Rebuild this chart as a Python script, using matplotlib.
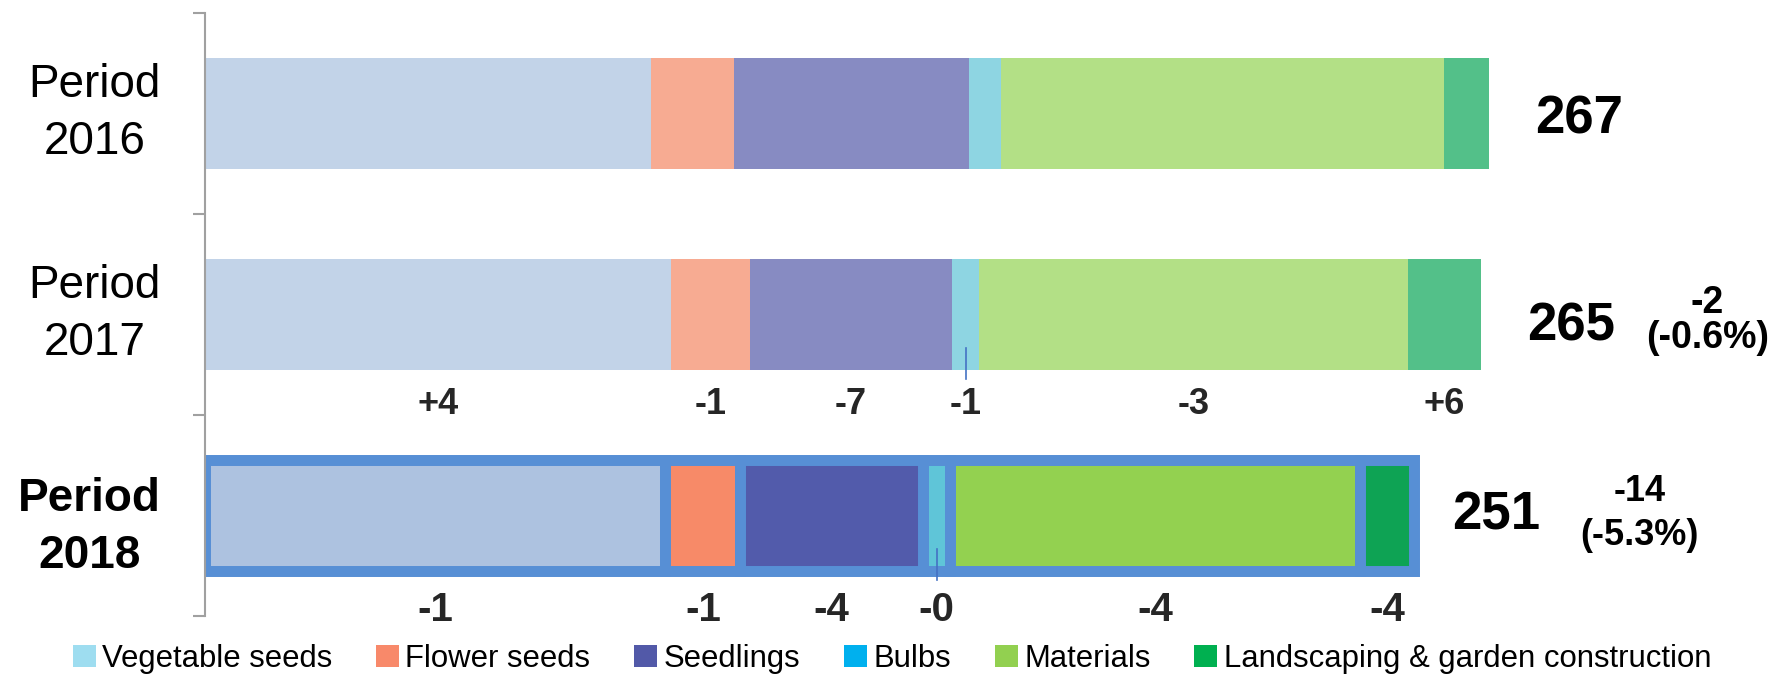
import matplotlib
matplotlib.use("Agg")
import matplotlib.pyplot as plt
from matplotlib.patches import Patch

plt.rcParams['font.family'] = ['Liberation Sans', 'DejaVu Sans']

periods = ["Period\n2016", "Period\n2017", "Period\n2018"]
categories = ["Vegetable seeds", "Flower seeds", "Seedlings", "Bulbs",
              "Materials", "Landscaping & garden construction"]

# values per period, one entry per category
p2016 = [92.7, 17.3, 48.9, 6.6, 92.1, 9.4]
p2017 = [96.8, 16.5, 42.0, 5.7, 89.1, 15.2]
p2018 = [95.7, 15.6, 38.0, 5.6, 85.2, 11.2]
values = [p2016, p2017, p2018]

old_colors = ['#C2D3E8', '#F7AB92', '#878BC2', '#8ED5E2', '#B3E086', '#53C089']
new_colors = ['#ADC2E0', '#F78A68', '#525BAB', '#5FC5D8', '#93D150', '#0EA354']
legend_colors = ['#9EDDF0', '#F8896A', '#5259A8', '#00B0EE', '#92D050', '#00B050']

# small per-row tweaks for the text on the right / below
total_dx = [9.6, 9.6, 8.0]
total_dy = [0.03, 0.06, 0.0]
chg_fs = [0, 27, 26]
chg_ls = [1, 0.95, 1.3]
chg_dy = [0, 0.03, -0.01]
lab_fs = [0, 26, 29]
lab_dy = [0, 0.175, 0.195]

fig = plt.figure(figsize=(17.73, 6.75), dpi=100)
ax = fig.add_axes([205/1773, 1 - 616/675, 1 - 205/1773, (616 - 13)/675])

h = 0.55
for i, vals in enumerate(values):
    left = 0
    for j, v in enumerate(vals):
        if i == 2:
            ax.barh(i, v, left=left, height=h, color=new_colors[j],
                    edgecolor='#578FD5', linewidth=7.9, zorder=2)
        else:
            ax.barh(i, v, left=left, height=h, color=old_colors[j],
                    linewidth=0, zorder=2)
        left += v

    total = sum(vals)
    ax.text(total + total_dx[i], i + total_dy[i], f"{total:.0f}", fontsize=38,
            fontweight='bold', ha='left', va='center')
    if i > 0:
        prev = sum(values[i - 1])
        d = total - prev
        ax.text(total + 47, i + chg_dy[i], f"{d:.0f}\n({d / prev * 100:.1f}%)",
                fontsize=chg_fs[i], fontweight='bold', ha='center', va='center',
                linespacing=chg_ls[i])

        # per-category change labels under the bar
        left = 0
        for j, v in enumerate(vals):
            cx = left + v / 2
            dv = v - values[i - 1][j]
            ax.text(cx, i + h/2 + lab_dy[i], f"{dv:+.0f}", fontsize=lab_fs[i],
                    fontweight='bold', color='#262626', ha='center', va='center')
            if j == 3:
                ax.plot([cx, cx], [i + h/2 - 0.11, i + h/2 + 0.045],
                        color='#4472C4', lw=1.2, zorder=3)
            left += v

ax.set_xlim(0, (1773 - 205) / 4.81)
ax.set_ylim(2.5, -0.5)

for s in ['top', 'right', 'bottom']:
    ax.spines[s].set_visible(False)
ax.spines['left'].set_color('#A0A0A0')
ax.spines['left'].set_linewidth(1.5)
ax.set_xticks([])

ax.set_yticks([-0.5, 0.5, 1.5, 2.5])
ax.set_yticklabels([])
ax.tick_params(axis='y', which='major', length=8.6, width=1.5, color='#A0A0A0')
ax.set_yticks([0, 1, 2], minor=True)
ax.set_yticklabels(periods, minor=True, fontsize=33, multialignment='center',
                   linespacing=1.4)
ax.tick_params(axis='y', which='minor', length=0, pad=31.7)
ylabs = ax.get_yticklabels(minor=True)
ylabs[0].set_va('center')
ylabs[1].set_va('center')
ylabs[2].set_fontweight('bold')

handles = [Patch(facecolor=c, edgecolor='none') for c in legend_colors]
fig.legend(handles, categories, loc='center', bbox_to_anchor=(0.503, 0.024),
           ncol=6, frameon=False, fontsize=22.4, handlelength=0.75,
           handleheight=0.75, handletextpad=0.2, columnspacing=1.4,
           borderpad=0, borderaxespad=0)

fig.savefig("out.png", dpi=100)
